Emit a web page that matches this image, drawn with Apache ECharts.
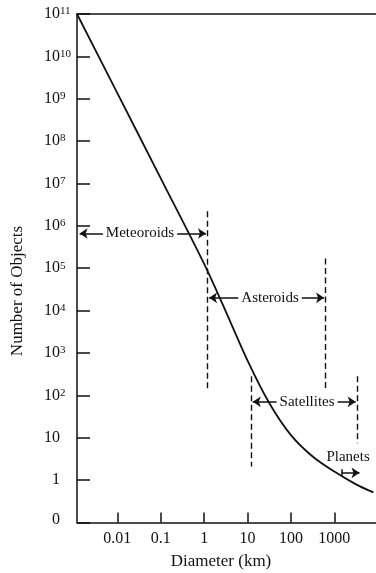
<!DOCTYPE html>
<html>
<head>
<meta charset="utf-8">
<script src="https://cdn.jsdelivr.net/npm/echarts@6/dist/echarts.min.js"></script>
<style>
html,body{margin:0;padding:0;background:#fff;}
#chart{width:376px;height:573px;}
</style>
</head>
<body>
<div id="chart"></div>
<script>
// ---- data ----
const diameterKm = [0.001175, 0.01, 0.1, 1, 3.16, 10, 31.6, 100, 316, 1000, 3162, 7943];
const numberOfObjects = [1e11, 1.35e9, 1.32e7, 1.26e5, 9.5e3, 661, 66, 11.5, 3.6, 1.58, 0.79, 0.51];

const xTickKm = [0.01, 0.1, 1, 10, 100, 1000];
const xTickLabels = ['0.01', '0.1', '1', '10', '100', '1000'];
const yTickExp = [-1, 0, 1, 2, 3, 4, 5, 6, 7, 8, 9, 10, 11];
const yTickLabels = ['0', '1', '10', '10^2', '10^3', '10^4', '10^5', '10^6', '10^7', '10^8', '10^9', '10^10', '10^11'];

// class boundaries (km) and vertical extents (number of objects) of dashed lines
const boundaryKm = [1.2, 630, 12, 3400];
const boundaryTop = [2.2e6, 1.7e5, 2.8e2, 2.8e2];
const boundaryBottom = [130, 130, 2.1, 7.4];

// labelled range arrows
const rangeNames = ['Meteoroids', 'Asteroids', 'Satellites'];
const rangeFromKm = [0.00135, 1.3, 13.2];
const rangeToKm = [1.1, 580, 3100];
const rangeLevel = [6.6e5, 2.0e4, 70];
const rangeLabelKm = [0.0333, 33, 235];
const planetsFromKm = 1480;
const planetsToKm = 3800;
const planetsLevel = 1.48;
const planetsLabelKm = 2070;
const planetsLabelLevel = 3.54;

const L = Math.log10;
const FONT = 'Liberation Serif';
const INK = '#111';

const chart = echarts.init(document.getElementById('chart'), null, {renderer: 'canvas'});

const curve = diameterKm.map((d, i) => [L(d), L(numberOfObjects[i])]);

const lineData = [];
boundaryKm.forEach((b, i) => {
  lineData.push([
    {coord: [L(b), L(boundaryTop[i])], symbol: 'none', lineStyle: {type: [6, 3.5], width: 1.4, color: INK}},
    {coord: [L(b), L(boundaryBottom[i])], symbol: 'none'}
  ]);
});
rangeNames.forEach((n, i) => {
  lineData.push([
    {coord: [L(rangeFromKm[i]), L(rangeLevel[i])], symbol: 'arrow'},
    {coord: [L(rangeToKm[i]), L(rangeLevel[i])], symbol: 'arrow'}
  ]);
});
lineData.push([
  {coord: [L(planetsFromKm), L(planetsLevel)], symbol: 'none'},
  {coord: [L(planetsToKm), L(planetsLevel)], symbol: 'arrow'}
]);
lineData.push([
  {coord: [L(planetsFromKm), L(planetsLevel) - 0.085], symbol: 'none'},
  {coord: [L(planetsFromKm), L(planetsLevel) + 0.085], symbol: 'none'}
]);

const pointData = rangeNames.map((n, i) => ({
  name: n, coord: [L(rangeLabelKm[i]), L(rangeLevel[i])]
}));
pointData.push({name: 'Planets', coord: [L(planetsLabelKm), L(planetsLabelLevel)],
  label: {backgroundColor: 'transparent'}});

const yRich = {
  b: {fontFamily: FONT, fontSize: 16, lineHeight: 16, color: INK},
  s: {fontFamily: FONT, fontSize: 11, lineHeight: 16, verticalAlign: 'top', color: INK},
  n: {fontFamily: FONT, fontSize: 16, lineHeight: 16, color: INK, padding: [0, 0, 0, 8]},
  z: {fontFamily: FONT, fontSize: 16, lineHeight: 16, color: INK, padding: [0, 0, 6, 8]}
};

const option = {
  animation: false,
  backgroundColor: '#fff',
  grid: {left: 77, top: 14, right: 0, bottom: 50.6, containLabel: false},
  xAxis: [{
    type: 'value', min: -2.93, max: 3.96,
    axisLine: {show: true, onZero: false, lineStyle: {color: INK, width: 1.5}},
    axisTick: {show: true, inside: true, length: 10, lineStyle: {color: INK, width: 1.5}, customValues: xTickKm.map(L)},
    axisLabel: {
      show: true, margin: 8, customValues: xTickKm.map(L),
      fontFamily: FONT, fontSize: 16, color: INK,
      formatter: v => { const i = xTickKm.findIndex(k => Math.abs(L(k) - v) < 1e-6); return i >= 0 ? xTickLabels[i] : ''; }
    },
    splitLine: {show: false}
  }, {
    type: 'value', position: 'top', min: -2.93, max: 3.96,
    axisLine: {show: true, onZero: false, lineStyle: {color: INK, width: 1.5}},
    axisTick: {show: false}, axisLabel: {show: false}, splitLine: {show: false}
  }],
  yAxis: {
    type: 'value', min: -1, max: 11, interval: 1,
    axisLine: {show: true, onZero: false, lineStyle: {color: INK, width: 1.5}},
    axisTick: {show: true, inside: true, length: 13, lineStyle: {color: INK, width: 1.5}},
    axisLabel: {
      show: true, align: 'left', margin: 33, rich: yRich,
      formatter: v => {
        const i = yTickExp.indexOf(Math.round(v));
        if (i < 0) return '';
        const t = yTickLabels[i];
        if (t.indexOf('^') >= 0) { const p = t.split('^'); return '{b|' + p[0] + '}{s|' + p[1] + '}'; }
        if (t === '0') return '{z|0}';
        if (t === '1') return '{n|1}';
        return '{b|' + t + '}';
      }
    },
    splitLine: {show: false}
  },
  graphic: [
    {type: 'text', x: 221, y: 562, style: {text: 'Diameter (km)', font: '17px "Liberation Serif"', fill: INK, align: 'center', verticalAlign: 'middle'}},
    {type: 'text', x: 17.5, y: 291, rotation: Math.PI / 2, style: {text: 'Number of Objects', font: '17px "Liberation Serif"', fill: INK, align: 'center', verticalAlign: 'middle'}}
  ],
  series: [
    {
      type: 'line', data: [], silent: true, z: 3,
      markLine: {
        silent: true, animation: false, symbolSize: 8, z: 3,
        lineStyle: {color: INK, width: 1.5, type: 'solid'},
        label: {show: false},
        emphasis: {disabled: true},
        data: lineData
      }
    },
    {
      type: 'line', data: [], silent: true, z: 4,
      markPoint: {
        silent: true, animation: false, symbol: 'rect', symbolSize: 0, z: 4,
        label: {show: true, position: 'inside', formatter: '{b}', fontFamily: FONT, fontSize: 15, color: INK,
                backgroundColor: '#fff', padding: [1, 3]},
        emphasis: {disabled: true},
        data: pointData
      }
    },
    {
      type: 'line', data: curve, symbol: 'none', smooth: 0.3, silent: true, z: 8,
      lineStyle: {color: INK, width: 1.8}
    }
  ]
};
chart.setOption(option);
</script>
</body>
</html>
